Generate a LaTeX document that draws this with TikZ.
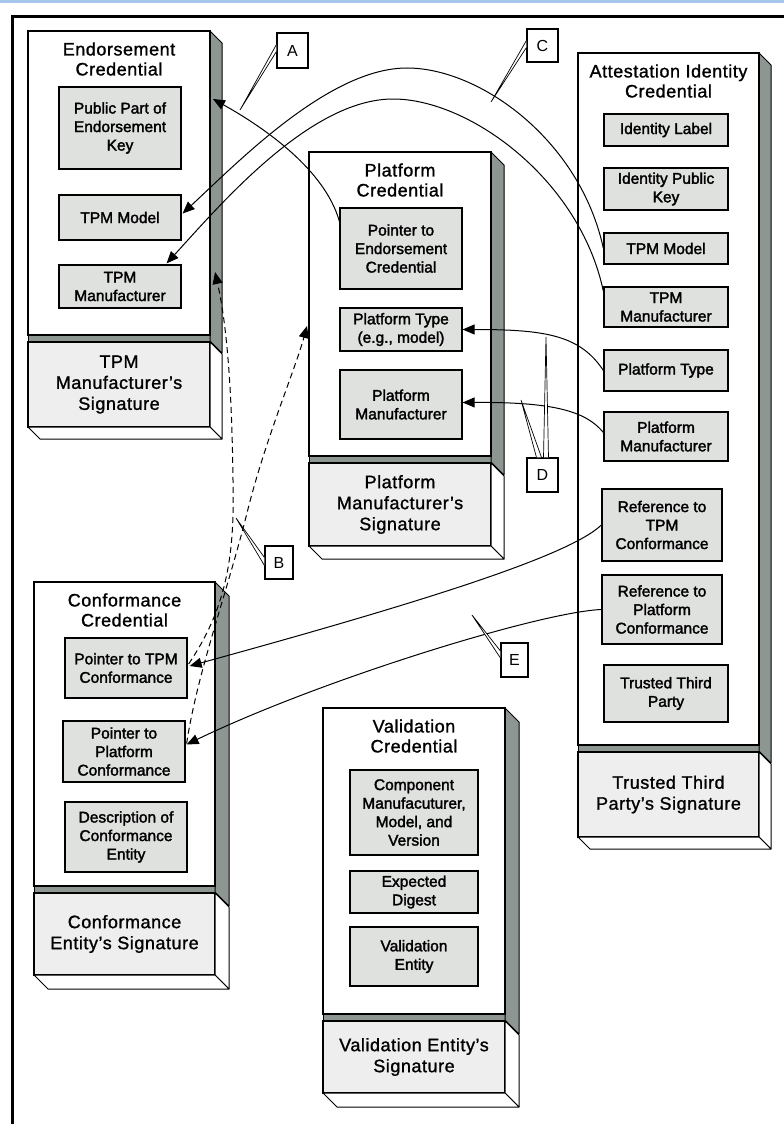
\documentclass[tikz,border=0pt]{standalone}
\usepackage{fontspec}
\setmainfont{Liberation Sans}
\newfontfamily\innerfam[FakeBold=2]{Liberation Sans}
\newfontfamily\titlefam[LetterSpace=3,FakeBold=1.2]{Liberation Sans}
\usetikzlibrary{arrows.meta,calc}
\definecolor{shadegray}{RGB}{142,150,145}
\definecolor{innergray}{RGB}{223,225,223}
\definecolor{siggray}{RGB}{238,238,238}
\definecolor{topblue}{RGB}{168,198,234}
\newcommand\fInner{\innerfam\fontsize{15.5}{18.5}\selectfont}
\newcommand\fTitle{\titlefam\fontsize{18}{20}\selectfont}
\newcommand\fSig{\titlefam\fontsize{18}{21}\selectfont}
\newcommand\fLbl{\fontsize{16}{18}\selectfont}
\tikzset{
 sideface/.style={draw=black,line width=1pt,fill=shadegray,line join=round},
 bodyface/.style={draw=black,line width=1.3pt,fill=white},
 sigface/.style={draw=black,line width=1.3pt,fill=siggray},
 openface/.style={draw=black,line width=1pt,fill=white,line join=round},
 inbox/.style={draw=black,line width=1.2pt,fill=innergray,align=center,inner sep=0pt,font=\fInner},
 ttl/.style={align=center,inner sep=0pt,font=\fTitle},
 sigtext/.style={align=center,inner sep=0pt,font=\fSig},
 lblbox/.style={draw=black,line width=1.1pt,fill=white,inner sep=0pt,font=\fLbl},
 leader/.style={draw=black,line width=0.7pt,fill=white,line join=miter},
 conn/.style={line width=1pt,-{Triangle[length=12pt,width=10pt]}},
 dconn/.style={conn,dash pattern=on 6pt off 4pt},
}
% #1 L, #2 T, #3 R, #4 B, #5 SB, #6 depth
\newcommand{\credbox}[6]{%
 \draw[sideface] (#1,#4) rectangle ({#3+2},{#4+6});
 \draw[sideface] (#3,#2) -- ({#3+#6},{#2+#6}) -- ({#3+#6},{#4+6+#6}) -- (#3,{#4+6}) -- cycle;
 \draw[bodyface] (#1,#2) rectangle (#3,#4);
 \draw[sigface] (#1,{#4+7}) rectangle (#3,#5);
 \draw[openface] (#3,{#4+7}) -- ({#3+#6},{#4+7+#6}) -- ({#3+#6},{#5+#6}) -- (#3,#5) -- cycle;
 \draw[openface] (#1,#5) -- ({#1+#6},{#5+#6}) -- ({#3+#6},{#5+#6}) -- (#3,#5) -- cycle;
}
\begin{document}
\begin{tikzpicture}[x=1pt,y=-1pt]
\useasboundingbox (0,0) rectangle (784,1124);
\fill[white] (0,0) rectangle (784,1124);
\fill[topblue] (0,0) rectangle (784,3);
\draw[line width=3pt] (12,1130) -- (12,16.5) -- (790,16.5);

% ---------- credentials ----------
\credbox{28}{31}{210}{335}{427}{12}
\credbox{309}{152}{491}{456}{546}{13}
\credbox{578}{53}{759}{745}{837}{12}
\credbox{34}{582}{215}{886}{975}{14}
\credbox{323}{708}{505}{1014}{1093}{14}

% Endorsement
\node[ttl] (etitle) at (119,59) {Endorsement\\Credential};
\node[inbox,minimum width=122pt,minimum height=82pt] (ekey) at (120,128) {Public Part of\\Endorsement\\Key};
\node[inbox,minimum width=122pt,minimum height=45pt] (etpmmodel) at (120,217.5) {TPM Model};
\node[inbox,minimum width=122pt,minimum height=43pt] (etpmman) at (120,286.5) {TPM\\Manufacturer};
\node[sigtext] (esig) at (119,384.5) {TPM\\Manufacturer’s\\Signature};

% Platform
\node[ttl] (ptitle) at (400,180) {Platform\\Credential};
\node[inbox,minimum width=122pt,minimum height=81pt] (pptr) at (401,248.5) {Pointer to\\Endorsement\\Credential};
\node[inbox,minimum width=122pt,minimum height=43pt] (ptype) at (401,329.5) {Platform Type\\(e.g., model)};
\node[inbox,minimum width=122pt,minimum height=69pt] (pman) at (401,404.5) {Platform\\Manufacturer};
\node[sigtext] (psig) at (400,504.5) {Platform\\Manufacturer’s\\Signature};

% Attestation Identity
\node[ttl] (atitle) at (668.5,81) {Attestation Identity\\Credential};
\node[inbox,minimum width=124pt,minimum height=32pt] (ailabel) at (666,130) {Identity Label};
\node[inbox,minimum width=124pt,minimum height=42pt] (aikey) at (666,189) {Identity Public\\Key};
\node[inbox,minimum width=124pt,minimum height=31pt] (aimodel) at (666,248.5) {TPM Model};
\node[inbox,minimum width=124pt,minimum height=40pt] (aiman) at (666,307) {TPM\\Manufacturer};
\node[inbox,minimum width=124pt,minimum height=41pt] (aitype) at (666,370.5) {Platform Type};
\node[inbox,minimum width=124pt,minimum height=49pt] (aipman) at (666,436.5) {Platform\\Manufacturer};
\node[inbox,minimum width=120pt,minimum height=72pt] (airtpm) at (662,525) {Reference to\\TPM\\Conformance};
\node[inbox,minimum width=120pt,minimum height=69pt] (airplat) at (662,609.5) {Reference to\\Platform\\Conformance};
\node[inbox,minimum width=124pt,minimum height=57pt] (aittp) at (666,693.5) {Trusted Third\\Party};
\node[sigtext] (asig) at (668.5,794.5) {Trusted Third\\Party’s Signature};

% Conformance
\node[ttl] (ctitle) at (124.5,610) {Conformance\\Credential};
\node[inbox,minimum width=122pt,minimum height=60pt] (cptpm) at (126,668) {Pointer to TPM\\Conformance};
\node[inbox,minimum width=122pt,minimum height=61pt] (cpplat) at (124,751.5) {Pointer to\\Platform\\Conformance};
\node[inbox,minimum width=122pt,minimum height=70pt] (cdesc) at (126,837) {Description of\\Conformance\\Entity};
\node[sigtext] (csig) at (124.5,934) {Conformance\\Entity’s Signature};

% Validation
\node[ttl] (vtitle) at (414,736) {Validation\\Credential};
\node[inbox,minimum width=128pt,minimum height=85pt] (vcomp) at (414,812.5) {Component\\Manufacuturer,\\Model, and\\Version};
\node[inbox,minimum width=128pt,minimum height=42pt] (vdig) at (414,892) {Expected\\Digest};
\node[inbox,minimum width=128pt,minimum height=59pt] (vent) at (414,956.5) {Validation\\Entity};
\node[sigtext] (vsig) at (414,1057) {Validation Entity’s\\Signature};

% ---------- connector end points on credential bodies ----------
\coordinate (eA) at (213,99);
\coordinate (eB) at (215,272);
\coordinate (pB) at (307,326);

% ---------- connectors ----------
% A
\draw[conn] ($(pptr.north west)+(0,14)$) .. controls (325,170) and (265,128) .. (eA);
% C
\draw[conn] (aimodel.west) .. controls (580,140) and (480,68) .. (407,68)
  .. controls (330,68) and (240,160) .. ($(etpmmodel.east)+(1,-4)$);
\draw[conn] ($(aiman.north west)+(0,5)$) .. controls (580,180) and (470,99) .. (393,99)
  .. controls (310,99) and (220,205) .. ($(etpmman.north east)+(-15,-1)$);
% D
\draw[conn] (aitype.west) .. controls (580,335) and (545,329.5) .. (ptype.east);
\draw[conn] ($(aipman.west)+(0,-4)$) .. controls (585,410) and (550,402) .. ($(pman.east)+(0,-2)$);
% E
\draw[conn] (airtpm.west) .. controls (570,555) and (430,600) .. ($(cptpm.east)+(2,-2)$);
\draw[conn] (airplat.west) .. controls (540,612) and (320,680) .. ($(cpplat.east)+(1,-7)$);
% B (dashed)
\draw[dconn] ($(cptpm.east)+(1,-4)$) .. controls (225,610) and (235,560) .. (233,480)
  .. controls (232,400) and (228,330) .. (eB);
\draw[dconn] ($(cpplat.east)+(1,-8)$) .. controls (198,670) and (225,600) .. (247,513)
  .. controls (265,440) and (295,370) .. (pB);

% ---------- labels with leaders ----------
\node[lblbox,minimum width=31pt,minimum height=35pt] (A) at (292.5,50.5) {A};
\node[lblbox,minimum width=31pt,minimum height=33pt] (C) at (542.5,45.5) {C};
\node[lblbox,minimum width=28pt,minimum height=33pt] (B) at (279,562.5) {B};
\node[lblbox,minimum width=31pt,minimum height=34pt] (D) at (542.5,475) {D};
\node[lblbox,minimum width=27pt,minimum height=34pt] (E) at (514.5,660) {E};
\coordinate (Atip) at (240,110);
\coordinate (Ctip) at (491,102);
\coordinate (Btip) at (236,518);
\coordinate (Dtip1) at (546,337);
\coordinate (Dtip2) at (521,400);
\coordinate (Etip) at (472,615);
\draw[leader] ($(A.west)+(0,-6)$) -- (Atip) -- ($(A.west)+(0,1)$);
\draw[leader] ($(C.west)+(0,-5)$) -- (Ctip) -- ($(C.west)+(0,2)$);
\draw[leader] ($(B.west)+(0,-5)$) -- (Btip) -- ($(B.west)+(0,3)$);
\draw[leader] ($(D.north)+(1,0)$) -- (Dtip1) -- ($(D.north)+(6,0)$);
\draw[leader] ($(D.north)+(-6,0)$) -- (Dtip2) -- ($(D.north)+(-1,0)$);
\draw[leader] ($(E.west)+(0,-9)$) -- (Etip) -- ($(E.west)+(0,-2)$);
\end{tikzpicture}
\end{document}
